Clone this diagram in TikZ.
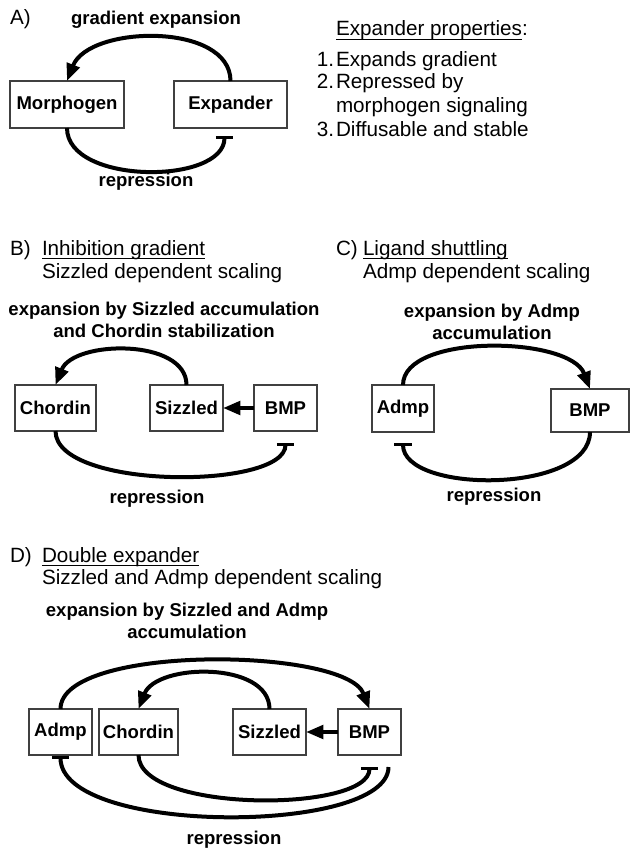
\documentclass[tikz,border=0pt]{standalone}
\usepackage{fontspec}
\setmainfont{Liberation Sans}
\usetikzlibrary{arrows.meta,calc}
\newcommand\ulin[1]{\setbox0\hbox{#1}\rlap{\rule[-3pt]{\wd0}{0.9pt}}\box0}
\newcommand\regfont{\fontsize{15.5}{18}\selectfont}
\newcommand\boldfont{\fontsize{13.9}{16.5}\selectfont\bfseries}

\begin{document}
\begin{tikzpicture}[x=0.75pt,y=-0.75pt,inner sep=0pt,outer sep=0pt,
box/.style={draw=black!75,line width=0.8pt,rectangle,minimum height=34.5pt,font=\boldfont},
lbl/.style={font=\boldfont,align=center},
hdr/.style={anchor=base west,font=\regfont},
expand/.style={line width=3pt,-{Triangle[length=13pt,width=10pt]}},
repress/.style={line width=3pt,-{Bar[width=13pt,line width=2pt]}}]
\useasboundingbox (0,0) rectangle (630,849);

\draw (10,25) node[hdr] {A)};
\draw (156,20) node[lbl] {gradient expansion};
\draw (67,104.5) node[box,minimum width=85.5pt,minimum height=35.25pt] (Mor) {Morphogen};
\draw (230.5,104.5) node[box,minimum width=84.75pt,minimum height=35.25pt] (Exp) {Expander};
\draw[expand] (Exp.north) .. controls +(0,-59) and +(22,-56) .. (Mor.north);
\draw[repress] (Mor.south) .. controls +(0,57) and +(0,49) .. ($(Exp.south)+(-6,8)$);
\draw (146,182) node[lbl] {repression};
\draw (336,36) node[hdr] {\ulin{Expander properties}:};
\draw (334,66) node[hdr,anchor=base east] {1.};
\draw (336,66) node[hdr] {Expands gradient};
\draw (334,89) node[hdr,anchor=base east] {2.};
\draw (336,89) node[hdr] {Repressed by};
\draw (336,113) node[hdr] {morphogen signaling};
\draw (334,136) node[hdr,anchor=base east] {3.};
\draw (336,136) node[hdr] {Diffusable and stable};

\draw (10,255) node[hdr] {B)};
\draw (42,255) node[hdr] {\ulin{Inhibition gradient}};
\draw (42,278) node[hdr] {Sizzled dependent scaling};
\draw (164,320) node[lbl] {expansion by Sizzled accumulation\\and Chordin stabilization};
\draw (55.5,408) node[box,minimum width=60.75pt] (ChdB) {Chordin};
\draw (186.5,408) node[box,minimum width=54.75pt] (SzlB) {Sizzled};
\draw (285.5,408) node[box,minimum width=47.25pt] (BmpB) {BMP};
\draw[expand] (SzlB.north) .. controls +(0,-47) and +(18,-45) .. (ChdB.north);
\draw[expand] (BmpB) -- (SzlB);
\draw[repress] (ChdB.south) .. controls +(0,59) and +(0,47) .. ($(BmpB.south)+(0,12)$);
\draw (157,499) node[lbl] {repression};

\draw (336,255) node[hdr] {C)};
\draw (363,255) node[hdr] {\ulin{Ligand shuttling}};
\draw (363,278) node[hdr] {Admp dependent scaling};
\draw (492,322) node[lbl] {expansion by Admp\\accumulation};
\draw (403,408.5) node[box,minimum width=46.5pt,minimum height=35.25pt] (AdmC) {Admp};
\draw (590,410.5) node[box,minimum width=58.5pt,minimum height=32.25pt] (BmpC) {BMP};
\draw[expand] (AdmC.north) .. controls +(0,-52) and +(-20,-53) .. (BmpC.north);
\draw[repress] (BmpC.south) .. controls +(0,62) and +(0,51) .. ($(AdmC.south)+(0,11)$);
\draw (494,497) node[lbl] {repression};

\draw (10,562) node[hdr] {D)};
\draw (42,562) node[hdr] {\ulin{Double expander}};
\draw (42,584) node[hdr] {Sizzled and Admp dependent scaling};
\draw (187,621) node[lbl] {expansion by Sizzled and Admp\\accumulation};
\draw (60.5,732) node[box,minimum width=47.25pt] (AdmD) {Admp};
\draw (138.5,732) node[box,minimum width=59.25pt] (ChdD) {Chordin};
\draw (269.5,732) node[box,minimum width=54.75pt] (SzlD) {Sizzled};
\draw (369.5,732) node[box,minimum width=47.25pt] (BmpD) {BMP};
\coordinate (BmpTail) at ($(BmpD.south)+(19,12)$);
\draw[expand] (AdmD.north) .. controls +(0,-65) and +(-24,-62) .. (BmpD.north);
\draw[expand] (SzlD.north) .. controls +(0,-48) and +(18,-46) .. (ChdD.north);
\draw[expand] (BmpD) -- (SzlD);
\draw[repress] (ChdD.south) .. controls +(0,58) and +(0,46) .. ($(BmpD.south)+(0,12)$);
\draw[repress] (BmpTail) .. controls +(0,68) and +(0,80) .. ($(AdmD.south)+(0,1)$);
\draw (234,840) node[lbl] {repression};
\end{tikzpicture}
\end{document}
